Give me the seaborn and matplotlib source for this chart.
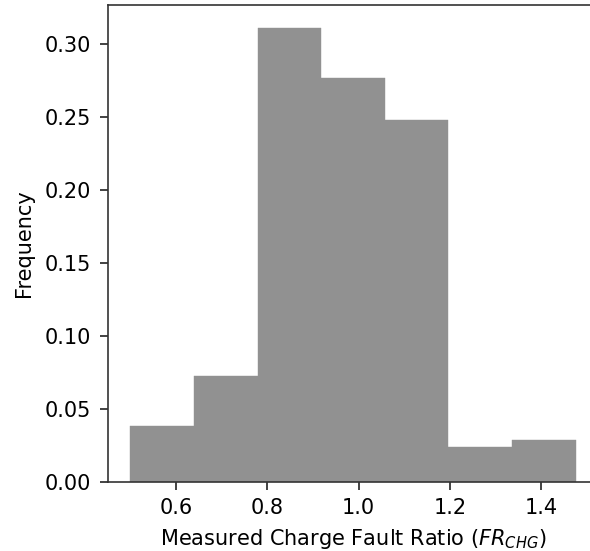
import matplotlib
matplotlib.use("Agg")
import matplotlib.pyplot as plt
import seaborn as sns

# histogram bins and relative frequencies
bin_edges = [0.5, 0.639, 0.779, 0.918, 1.057, 1.196, 1.336, 1.475]
frequencies = [0.0382, 0.0723, 0.3111, 0.2768, 0.2477, 0.0238, 0.0284]
x_ticks = [0.6, 0.8, 1.0, 1.2, 1.4]
y_ticks = [0.00, 0.05, 0.10, 0.15, 0.20, 0.25, 0.30]

plt.rcParams['font.family'] = ['DejaVu Sans']
plt.rcParams['font.size'] = 15

centers = [(bin_edges[i] + bin_edges[i + 1]) / 2 for i in range(len(frequencies))]

fig = plt.figure(figsize=(5.9, 5.51), dpi=100)
ax = fig.add_axes([0.183, 0.1261, 0.8305, 0.8648])
sns.histplot(x=centers, weights=frequencies, bins=bin_edges, color="#919191",
             alpha=1.0, edgecolor="#919191", linewidth=0.3, ax=ax)
ax.set_xlabel("Measured Charge Fault Ratio ($FR_{CHG}$)", fontsize=15, labelpad=6)
ax.set_ylabel("Frequency", fontsize=15, labelpad=8)
ax.set_xticks(x_ticks)
ax.set_xticklabels([f"{t:.1f}" for t in x_ticks])
ax.set_yticks(y_ticks)
ax.set_yticklabels([f"{t:.2f}" for t in y_ticks])
ax.tick_params(labelsize=15, length=6, width=1.2, pad=6, color="#222222")
for s in ax.spines.values():
    s.set_linewidth(1.2)
    s.set_color("#333333")
ax.set_ylim(0, 0.3267)
ax.set_xlim(0.451, 1.524)

fig.savefig("out.png", dpi=100)
